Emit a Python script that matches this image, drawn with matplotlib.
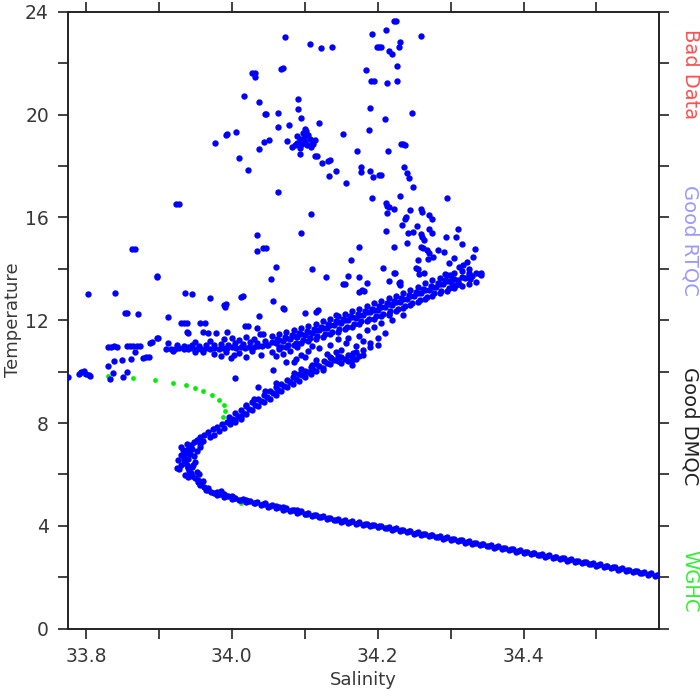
import numpy as np
import matplotlib
matplotlib.use("Agg")
import matplotlib.pyplot as plt

# T-S scatter: (salinity, temperature) pairs per feature

# deep water line, interleaved rows so it reads as one thick line
deep_pts = [
    (33.98, 5.20), (33.99, 5.13), (34.00, 5.05), (34.01, 4.99), (34.02, 4.93), (34.03, 4.87),
    (34.04, 4.81), (34.05, 4.75), (34.06, 4.69), (34.07, 4.63), (34.08, 4.57), (34.09, 4.51),
    (34.10, 4.45), (34.11, 4.39), (34.12, 4.33), (34.13, 4.27), (34.14, 4.21), (34.15, 4.16),
    (34.16, 4.11), (34.17, 4.07), (34.18, 4.03), (34.19, 3.99), (34.20, 3.95), (34.21, 3.90),
    (34.22, 3.85), (34.23, 3.80), (34.24, 3.75), (34.25, 3.70), (34.26, 3.65), (34.27, 3.60),
    (34.28, 3.55), (34.29, 3.50), (34.30, 3.45), (34.31, 3.40), (34.32, 3.35), (34.33, 3.30),
    (34.34, 3.25), (34.35, 3.20), (34.36, 3.15), (34.37, 3.10), (34.38, 3.05), (34.39, 3.00),
    (34.40, 2.95), (34.41, 2.90), (34.42, 2.85), (34.43, 2.80), (34.44, 2.75), (34.45, 2.70),
    (34.46, 2.65), (34.47, 2.60), (34.48, 2.55), (34.49, 2.50), (34.50, 2.45), (34.51, 2.40),
    (34.52, 2.35), (34.53, 2.30), (34.54, 2.25), (34.55, 2.20), (34.56, 2.15), (34.57, 2.10),
    (34.58, 2.05),
    (33.985, 5.24), (33.995, 5.17), (34.005, 5.10), (34.015, 5.04), (34.025, 4.98), (34.035, 4.92),
    (34.045, 4.86), (34.055, 4.80), (34.065, 4.74), (34.075, 4.68), (34.085, 4.62), (34.095, 4.56),
    (34.105, 4.50), (34.115, 4.44), (34.125, 4.38), (34.135, 4.32), (34.145, 4.26), (34.155, 4.21),
    (34.165, 4.17), (34.175, 4.13), (34.185, 4.09), (34.195, 4.05), (34.205, 4.00), (34.215, 3.95),
    (34.225, 3.90), (34.235, 3.85), (34.245, 3.80), (34.255, 3.75), (34.265, 3.70), (34.275, 3.65),
    (34.285, 3.60), (34.295, 3.55), (34.305, 3.50), (34.315, 3.45), (34.325, 3.40), (34.335, 3.35),
    (34.345, 3.30), (34.355, 3.25), (34.365, 3.20), (34.375, 3.15), (34.385, 3.10), (34.395, 3.05),
    (34.405, 3.00), (34.415, 2.95), (34.425, 2.90), (34.435, 2.85), (34.445, 2.80), (34.455, 2.75),
    (34.465, 2.70), (34.475, 2.65), (34.485, 2.60), (34.495, 2.55), (34.505, 2.50), (34.515, 2.45),
    (34.525, 2.40), (34.535, 2.35), (34.545, 2.30), (34.555, 2.25), (34.565, 2.20), (34.575, 2.15),
    (34.585, 2.10),
    (33.9825, 5.23), (33.9925, 5.16), (34.0025, 5.08), (34.0125, 5.02), (34.0225, 4.96), (34.0325, 4.90),
    (34.0425, 4.84), (34.0525, 4.78), (34.0625, 4.72), (34.0725, 4.66), (34.0825, 4.60), (34.0925, 4.54),
    (34.1025, 4.48), (34.1125, 4.42), (34.1225, 4.36), (34.1325, 4.30), (34.1425, 4.24), (34.1525, 4.19),
    (34.1625, 4.14), (34.1725, 4.10), (34.1825, 4.06), (34.1925, 4.02), (34.2025, 3.98), (34.2125, 3.93),
    (34.2225, 3.88), (34.2325, 3.83), (34.2425, 3.78), (34.2525, 3.73), (34.2625, 3.68), (34.2725, 3.63),
    (34.2825, 3.58), (34.2925, 3.53), (34.3025, 3.48), (34.3125, 3.43), (34.3225, 3.38), (34.3325, 3.33),
    (34.3425, 3.28), (34.3525, 3.23), (34.3625, 3.18), (34.3725, 3.13), (34.3825, 3.08), (34.3925, 3.03),
    (34.4025, 2.98), (34.4125, 2.93), (34.4225, 2.88), (34.4325, 2.83), (34.4425, 2.78), (34.4525, 2.73),
    (34.4625, 2.68), (34.4725, 2.63), (34.4825, 2.58), (34.4925, 2.53), (34.5025, 2.48), (34.5125, 2.43),
    (34.5225, 2.38), (34.5325, 2.33), (34.5425, 2.28), (34.5525, 2.23), (34.5625, 2.18), (34.5725, 2.13),
    (34.5825, 2.08),
    (33.990, 5.22), (34.000, 5.15), (34.020, 5.00), (34.045, 4.88), (34.060, 4.78), (34.070, 4.72),
    (34.090, 4.60),
]

# salinity minimum "nose"
nose_pts = [
    (33.975, 5.28), (33.968, 5.38), (33.962, 5.50), (33.957, 5.60), (33.953, 5.72), (33.950, 5.85),
    (33.946, 5.95), (33.944, 6.05), (33.942, 6.15), (33.940, 6.25), (33.938, 6.35), (33.936, 6.45),
    (33.935, 6.55), (33.934, 6.65), (33.935, 6.75), (33.936, 6.85), (33.938, 6.95), (33.941, 7.05),
    (33.944, 7.15), (33.948, 7.25), (33.952, 7.35), (33.957, 7.45), (33.962, 7.55), (33.968, 7.65),
    (33.974, 7.75), (33.980, 7.85), (33.987, 7.95),
    (33.928, 6.20), (33.930, 6.35), (33.926, 6.55), (33.930, 6.75), (33.933, 6.95), (33.930, 7.05),
    (33.945, 6.30), (33.950, 6.50), (33.948, 6.70), (33.952, 6.90), (33.956, 7.05), (33.952, 6.10),
    (33.955, 6.00), (33.947, 6.38), (33.957, 7.20), (33.960, 7.30), (33.970, 7.45), (33.975, 7.55),
    (33.982, 7.70), (33.990, 7.82), (33.998, 7.95), (34.005, 8.05), (34.012, 8.15), (33.960, 5.75),
    (33.953, 5.80), (33.958, 5.65), (33.940, 5.90), (33.936, 5.98), (33.965, 5.40), (33.972, 5.32),
    (33.980, 5.30), (33.985, 5.35), (33.968, 5.47), (33.940, 6.60), (33.943, 6.80), (33.945, 7.00),
    (33.925, 6.25), (33.938, 7.20),
]

# branch rising from the nose to the thermocline band
branch_pts = [
    (33.994, 8.05), (34.000, 8.15), (34.008, 8.27), (34.016, 8.40), (34.024, 8.55), (34.032, 8.70),
    (34.040, 8.85), (34.048, 9.00), (34.056, 9.15), (34.064, 9.30), (34.072, 9.45), (34.080, 9.60),
    (34.088, 9.72), (34.096, 9.85), (34.104, 9.97), (34.112, 10.08), (34.120, 10.20), (34.130, 10.33),
    (34.140, 10.45), (34.150, 10.55), (34.160, 10.65), (34.170, 10.75), (34.180, 10.85), (34.190, 10.95),
    (34.200, 11.05),
    (34.004, 8.10), (34.012, 8.22), (34.020, 8.36), (34.028, 8.50), (34.036, 8.66), (34.044, 8.80),
    (34.052, 8.95), (34.060, 9.10), (34.068, 9.26), (34.076, 9.40), (34.084, 9.52), (34.092, 9.65),
    (34.100, 9.78), (34.108, 9.90), (34.116, 10.02), (34.125, 10.15), (34.135, 10.28), (34.145, 10.40),
    (34.155, 10.50), (34.165, 10.60),
    (33.996, 8.25), (34.004, 8.38), (34.012, 8.50), (34.020, 8.65), (34.028, 8.80), (34.036, 8.95),
    (34.044, 9.10), (34.052, 9.25), (34.060, 9.40), (34.068, 9.52), (34.076, 9.66), (34.084, 9.80),
    (34.092, 9.92), (34.100, 10.04), (34.108, 10.16), (34.116, 10.28), (34.126, 10.40), (34.136, 10.52),
    (34.146, 10.62),
    (34.030, 8.95), (34.060, 9.55), (34.085, 9.95), (34.110, 10.25), (34.135, 10.55), (34.020, 8.70),
    (34.045, 9.25), (34.095, 10.10), (34.150, 10.35), (34.165, 10.45), (34.175, 10.60), (34.160, 10.40),
    (34.170, 10.50), (34.180, 10.65), (34.165, 10.25),
]

# flat part of the band near 11 degrees
flat_pts = [
    (33.910, 10.86), (33.916, 10.88), (33.922, 10.87), (33.928, 10.90), (33.934, 10.86), (33.940, 10.88),
    (33.946, 10.91), (33.952, 10.87), (33.958, 10.89), (33.964, 10.92), (33.970, 10.86), (33.976, 10.90),
    (33.982, 10.88), (33.988, 10.93), (33.994, 10.90), (34.000, 10.95), (34.006, 10.92), (34.012, 10.96),
    (34.018, 10.93), (34.024, 10.97), (34.030, 10.95), (34.036, 10.99), (34.042, 10.98), (34.048, 11.02),
    (33.925, 11.02), (33.935, 10.98), (33.945, 11.03), (33.955, 11.00), (33.965, 11.05), (33.975, 11.02),
    (33.985, 11.08), (33.995, 11.05), (34.005, 11.12), (34.015, 11.08), (34.025, 11.15), (34.035, 11.12),
    (34.045, 11.18),
    (33.960, 10.75), (33.975, 10.70), (33.985, 10.62), (33.992, 10.78), (34.003, 10.65), (34.010, 10.72),
    (34.020, 10.58), (34.028, 10.80), (34.040, 10.66), (33.950, 10.78), (33.920, 10.80), (33.940, 10.95),
    (33.950, 11.15), (33.970, 11.20), (33.990, 11.25), (34.000, 11.30), (34.010, 11.22), (34.020, 11.35),
    (34.030, 11.28),
]

# rising thermocline band up to its end near 34.34
band_pts = [
    (34.05, 11.05), (34.06, 11.12), (34.07, 11.20), (34.08, 11.28), (34.09, 11.36), (34.10, 11.44),
    (34.11, 11.52), (34.12, 11.60), (34.13, 11.70), (34.14, 11.80), (34.15, 11.90), (34.16, 12.00),
    (34.17, 12.10), (34.18, 12.20), (34.19, 12.30), (34.20, 12.40), (34.21, 12.50), (34.22, 12.60),
    (34.23, 12.70), (34.24, 12.82), (34.25, 12.95), (34.26, 13.07), (34.27, 13.19), (34.28, 13.30),
    (34.29, 13.40), (34.30, 13.50), (34.31, 13.58), (34.32, 13.65), (34.33, 13.72), (34.34, 13.80),
    (34.055, 11.15), (34.065, 11.22), (34.075, 11.30), (34.085, 11.38), (34.095, 11.46), (34.105, 11.54),
    (34.115, 11.62), (34.125, 11.71), (34.135, 11.81), (34.145, 11.91), (34.155, 12.01), (34.165, 12.11),
    (34.175, 12.21), (34.185, 12.31), (34.195, 12.41), (34.205, 12.51), (34.215, 12.61), (34.225, 12.71),
    (34.235, 12.82), (34.245, 12.94), (34.255, 13.07), (34.265, 13.19), (34.275, 13.31), (34.285, 13.42),
    (34.295, 13.52), (34.305, 13.61), (34.315, 13.68), (34.325, 13.75), (34.335, 13.82),
    (34.055, 11.38), (34.065, 11.46), (34.075, 11.54), (34.085, 11.62), (34.095, 11.70), (34.105, 11.78),
    (34.115, 11.86), (34.125, 11.95), (34.135, 12.05), (34.145, 12.15), (34.155, 12.25), (34.165, 12.35),
    (34.175, 12.45), (34.185, 12.55), (34.195, 12.65), (34.205, 12.75), (34.215, 12.85), (34.225, 12.95),
    (34.235, 13.06), (34.245, 13.18), (34.255, 13.31), (34.265, 13.43), (34.275, 13.55), (34.285, 13.65),
    (34.295, 13.75), (34.305, 13.84), (34.315, 13.92), (34.325, 14.00),
    (34.055, 10.78), (34.065, 10.86), (34.075, 10.94), (34.085, 11.02), (34.095, 11.10), (34.105, 11.18),
    (34.115, 11.26), (34.125, 11.35), (34.135, 11.45), (34.145, 11.55), (34.155, 11.65), (34.165, 11.75),
    (34.175, 11.85), (34.185, 11.95), (34.195, 12.05), (34.205, 12.15), (34.215, 12.25), (34.225, 12.35),
    (34.235, 12.46), (34.245, 12.58), (34.255, 12.71), (34.265, 12.83), (34.275, 12.95), (34.285, 13.05),
    (34.295, 13.15), (34.305, 13.25), (34.315, 13.33), (34.325, 13.42), (34.335, 13.50),
    (34.0625, 11.27), (34.0725, 11.35), (34.0825, 11.43), (34.0925, 11.51), (34.1025, 11.59), (34.1125, 11.67),
    (34.1225, 11.75), (34.1325, 11.85), (34.1425, 11.95), (34.1525, 12.05), (34.1625, 12.15), (34.1725, 12.25),
    (34.1825, 12.35), (34.1925, 12.45), (34.2025, 12.55), (34.2125, 12.65), (34.2225, 12.75), (34.2325, 12.85),
    (34.2425, 12.97), (34.2525, 13.10), (34.2625, 13.22), (34.2725, 13.34), (34.2825, 13.45), (34.2925, 13.55),
    (34.3025, 13.65),
    (34.0675, 10.97), (34.0775, 11.05), (34.0875, 11.13), (34.0975, 11.21), (34.1075, 11.29), (34.1175, 11.37),
    (34.1275, 11.45), (34.1375, 11.55), (34.1475, 11.65), (34.1575, 11.75), (34.1675, 11.85), (34.1775, 11.95),
    (34.1875, 12.05), (34.1975, 12.15), (34.2075, 12.25), (34.2175, 12.35), (34.2275, 12.45), (34.2375, 12.55),
    (34.2475, 12.67), (34.2575, 12.80), (34.2675, 12.92), (34.2775, 13.04), (34.2875, 13.15), (34.2975, 13.25),
    (34.3075, 13.35),
    (34.057, 10.06), (34.075, 10.39), (34.085, 10.39), (34.088, 10.50), (34.116, 10.45), (34.143, 10.77),
    (34.157, 11.10), (34.166, 10.71), (34.150, 10.85), (34.125, 10.06), (34.060, 10.60), (34.070, 10.70),
    (34.080, 10.80), (34.095, 10.65), (34.105, 10.80), (34.120, 10.90), (34.130, 10.70), (34.135, 11.05),
    (34.110, 11.00), (34.100, 10.55), (34.065, 10.95), (34.090, 10.95), (34.170, 11.00), (34.180, 11.20),
    (34.190, 11.10), (34.200, 11.30), (34.175, 11.40), (34.160, 11.30), (34.145, 11.25), (34.185, 11.60),
    (34.195, 11.75), (34.205, 11.90), (34.210, 11.50), (34.220, 12.00), (34.215, 12.20), (34.235, 12.20),
]

# fresh shelf scatter on the left
shelf_pts = [
    (33.776, 9.80), (33.790, 9.90), (33.793, 9.98), (33.797, 10.02), (33.800, 9.92), (33.804, 9.87),
    (33.806, 9.84), (33.830, 10.22), (33.833, 9.71), (33.837, 9.93), (33.839, 10.41), (33.849, 10.45),
    (33.851, 9.80), (33.857, 10.00), (33.862, 10.48), (33.867, 10.77), (33.830, 10.97), (33.834, 10.97),
    (33.838, 10.98), (33.842, 10.97), (33.856, 11.00), (33.860, 11.00), (33.864, 10.99), (33.870, 11.00),
    (33.874, 11.00), (33.878, 10.54), (33.882, 10.56), (33.886, 10.58), (33.888, 11.10), (33.890, 11.15),
    (33.897, 11.30), (33.899, 11.32), (33.913, 11.10), (33.930, 11.88), (33.934, 11.88), (33.938, 11.88),
    (33.956, 11.88), (33.963, 11.89), (33.938, 11.53), (33.940, 11.51), (33.960, 11.53), (33.968, 11.50),
    (33.978, 11.49), (33.993, 11.53), (34.018, 11.79), (34.022, 11.79), (34.034, 11.68), (34.038, 11.45),
    (34.043, 11.47), (34.004, 9.74), (33.999, 10.52), (34.036, 9.41),
]

# warm near-surface outliers
upper_pts = [
    (33.803, 13.02), (33.840, 13.04), (33.853, 12.29), (33.856, 12.29), (33.872, 12.23), (33.913, 12.14),
    (33.897, 13.67), (33.898, 13.72), (33.863, 14.76), (33.867, 14.76), (33.924, 16.52), (33.927, 16.52),
    (33.936, 13.07), (33.945, 13.02), (33.970, 12.85), (33.989, 12.59), (33.991, 12.52), (33.992, 12.64),
    (34.013, 12.91), (34.015, 12.95), (34.037, 12.16), (34.056, 12.76), (34.061, 14.06), (34.054, 13.59),
    (34.072, 12.45), (34.035, 15.31), (34.035, 14.70), (34.043, 14.80), (34.047, 14.80), (34.095, 15.40),
    (34.109, 16.12), (34.064, 16.97), (34.110, 14.00), (34.129, 13.67), (34.155, 13.41), (34.159, 13.72),
    (34.100, 12.27), (34.118, 12.40), (34.116, 12.33), (34.143, 12.20), (34.153, 13.41), (34.175, 13.10),
    (34.070, 12.46),
    (33.977, 18.90), (33.992, 19.21), (33.993, 19.25), (34.006, 19.33), (34.010, 18.32), (34.022, 17.84),
    (34.017, 20.73), (34.028, 21.63), (34.032, 21.63), (34.032, 21.45), (34.037, 20.49), (34.045, 20.02),
    (34.047, 20.02), (34.037, 18.67), (34.044, 18.94), (34.051, 19.00), (34.063, 20.07), (34.064, 19.50),
    (34.068, 21.77), (34.070, 21.80), (34.073, 23.01), (34.079, 19.58), (34.076, 18.98), (34.091, 20.59),
    (34.091, 20.23), (34.095, 19.85), (34.083, 18.75), (34.087, 18.80), (34.090, 18.90), (34.093, 19.05),
    (34.096, 18.85), (34.099, 19.10), (34.100, 18.95), (34.103, 18.80), (34.105, 19.20), (34.107, 19.05),
    (34.110, 18.90), (34.112, 18.85), (34.098, 19.30), (34.100, 19.45), (34.102, 19.35), (34.094, 18.70),
    (34.108, 18.75), (34.114, 19.00), (34.089, 19.15), (34.094, 18.45), (34.114, 18.39), (34.117, 18.39),
    (34.120, 19.66), (34.123, 18.13), (34.132, 18.19), (34.134, 18.25), (34.107, 22.73), (34.122, 22.60),
    (34.138, 22.61), (34.133, 17.61), (34.143, 17.79), (34.153, 19.25), (34.156, 17.32),
    (34.223, 23.62), (34.225, 23.62), (34.192, 23.12), (34.211, 23.27), (34.230, 22.82), (34.229, 22.62),
    (34.259, 23.07), (34.199, 22.61), (34.202, 22.61), (34.205, 22.61), (34.215, 22.47), (34.219, 22.35),
    (34.227, 21.90), (34.184, 21.72), (34.191, 21.30), (34.195, 21.31), (34.213, 21.22), (34.227, 21.29),
    (34.189, 20.26), (34.210, 19.81), (34.247, 20.07), (34.188, 19.40), (34.171, 18.58), (34.232, 18.85),
    (34.235, 18.85), (34.238, 18.80), (34.214, 18.59), (34.177, 17.94), (34.177, 17.76), (34.190, 17.80),
    (34.194, 17.58), (34.202, 17.64), (34.204, 17.65), (34.236, 17.95), (34.240, 17.74), (34.243, 17.54),
    (34.248, 17.18), (34.192, 16.76), (34.230, 16.83), (34.295, 16.75), (34.211, 16.54), (34.213, 16.45),
    (34.215, 16.40), (34.213, 16.15), (34.223, 16.31), (34.244, 16.30), (34.237, 15.94), (34.239, 16.00),
    (34.233, 15.71), (34.260, 16.31), (34.261, 16.22), (34.271, 16.08), (34.275, 15.95), (34.248, 15.44),
    (34.254, 15.65), (34.259, 15.34), (34.261, 15.23), (34.270, 15.53), (34.275, 15.41), (34.264, 15.12),
    (34.259, 14.83), (34.262, 14.80), (34.267, 14.73), (34.270, 14.63), (34.269, 14.39), (34.276, 14.47),
    (34.283, 14.73), (34.291, 14.65), (34.294, 15.25), (34.308, 15.25), (34.310, 15.56), (34.315, 14.95),
    (34.333, 14.78), (34.331, 14.47), (34.304, 14.43), (34.298, 14.24), (34.322, 14.26), (34.317, 14.15),
    (34.311, 14.08), (34.325, 13.85), (34.341, 13.82), (34.342, 13.75), (34.327, 13.59), (34.312, 13.41),
    (34.302, 13.30), (34.174, 14.84), (34.222, 14.83), (34.212, 15.45), (34.240, 15.00), (34.241, 15.38),
    (34.163, 14.34), (34.175, 13.69), (34.207, 14.02), (34.215, 13.52), (34.178, 13.17), (34.181, 13.12),
    (34.186, 13.46), (34.229, 13.46), (34.231, 13.38), (34.224, 13.82), (34.252, 14.04), (34.255, 14.00),
    (34.255, 14.34), (34.257, 13.80), (34.263, 13.82), (34.293, 13.81), (34.299, 13.74), (34.222, 13.85),
    (34.230, 13.50),
]

# WGHC climatology profile (green)
wghc_pts = [
    (33.798, 9.90), (33.830, 9.84), (33.865, 9.75), (33.895, 9.66), (33.919, 9.56), (33.937, 9.47),
    (33.949, 9.37), (33.960, 9.26), (33.973, 9.09), (33.983, 8.91), (33.990, 8.70), (33.991, 8.47),
    (33.988, 8.22), (33.975, 7.80), (33.955, 7.30), (33.940, 6.80), (33.938, 6.30), (33.955, 5.59),
    (33.977, 5.24), (34.013, 4.88), (34.100, 4.42), (34.200, 3.93), (34.300, 3.43), (34.400, 2.93),
    (34.500, 2.43),
]

x_ticks = [33.8, 33.9, 34.0, 34.1, 34.2, 34.3, 34.4, 34.5]
x_labels = ["33.8", "", "34.0", "", "34.2", "", "34.4", ""]
y_ticks = list(range(0, 25, 2))
y_labels = [str(v) if v % 4 == 0 else "" for v in y_ticks]

legend_names = ["Bad Data", "Good RTQC", "Good DMQC", "WGHC"]
legend_colors = ["#ff5050", "#9999ff", "#222222", "#33ee33"]

fig = plt.figure(figsize=(7, 7), dpi=100)
ax = fig.add_axes([0.0967, 0.1019, 0.845, 0.8814])

g = np.array(wghc_pts)
ax.scatter(g[:, 0], g[:, 1], s=12, c="#00ee00", linewidths=0, zorder=2)

for grp in [deep_pts, nose_pts, branch_pts, flat_pts, band_pts, shelf_pts, upper_pts]:
    a = np.array(grp)
    ax.scatter(a[:, 0], a[:, 1], s=21, c="#0000ff", linewidths=0, zorder=3)

ax.set_xlim(33.775, 34.586)
ax.set_ylim(0, 24)
ax.set_xticks(x_ticks)
ax.set_xticklabels(x_labels)
ax.set_yticks(y_ticks)
ax.set_yticklabels(y_labels)

txt_col = "#383838"
ax.tick_params(direction="out", length=7.5, width=1.3, color="#333333",
               top=True, right=True, labeltop=False, labelright=False,
               labelsize=13.5, labelcolor=txt_col, pad=6)
for sp in ax.spines.values():
    sp.set_linewidth(1.4)
    sp.set_color("#222222")

ax.set_xlabel("Salinity", fontsize=13, color=txt_col, labelpad=3)
ax.set_ylabel("Temperature", fontsize=13, color=txt_col, labelpad=2)

label_y = [0.894, 0.657, 0.391, 0.169]
for name, col, yy in zip(legend_names, legend_colors, label_y):
    fig.text(0.986, yy, name, rotation=270, ha="center", va="center",
             fontsize=14, color=col)

fig.savefig("out.png", dpi=100)
